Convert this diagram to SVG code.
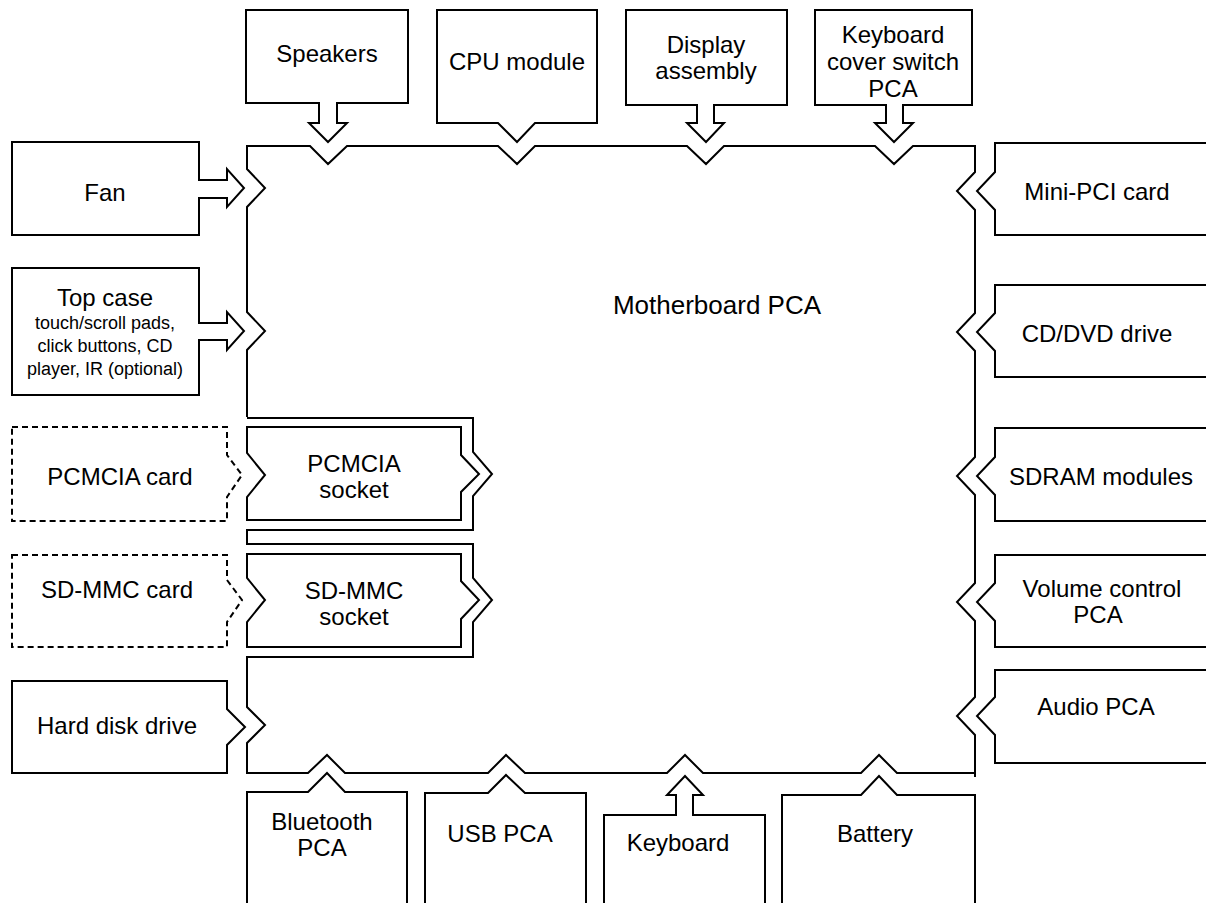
<svg xmlns="http://www.w3.org/2000/svg" width="1206" height="903" viewBox="0 0 1206 903">
<style>
.o{fill:none;stroke:#000;stroke-width:2;stroke-linejoin:miter}
.d{fill:none;stroke:#000;stroke-width:2;stroke-dasharray:6,4}
text{font-family:"Liberation Sans",Arial,sans-serif;font-size:24px;fill:#000;text-anchor:middle}
.s{font-size:18px}
</style>
<rect width="1206" height="903" fill="#fff"/>
<g id="motherboard">
<path class="o" d="M247,417 L247,350 L265,331 L247,312 L247,207 L265,188 L247,169 L247,146 L310,146 L328,164 L347,146 L498,146 L517,164 L535,146 L687,146 L706,164 L724,146 L875,146 L894,164 L913,146 L975,146 L975,172 L957,191 L975,210 L975,313 L957,332 L975,351 L975,457 L957,476 L975,495 L975,583 L957,602 L975,621 L975,697 L957,716 L975,735 L975,777 M975,773 L897,773 L879,755 L861,773 L703,773 L685,755 L667,773 L525,773 L506,755 L488,773 L345,773 L327,755 L308,773 L247,773 L247,743 L265,725 L247,707 L247,657 L473,657 L473,622 L492,600 L473,578 L473,544 L247,544 L247,530 L473,530 L473,496 L492,474 L473,452 L473,418 L247,418"/>
<text x="717" y="314" style="font-size:26px">Motherboard PCA</text>
</g>
<g id="speakers">
<path class="o" d="M246,10 L408,10 L408,103 L337,103 L337,123 L347,123 L328,142 L309,123 L319,123 L319,103 L246,103 Z"/>
<text x="327" y="62">Speakers</text>
</g>
<g id="cpu">
<path class="o" d="M437,10 L597,10 L597,123 L535,123 L517,142 L498,123 L437,123 Z"/>
<text x="517" y="70">CPU module</text>
</g>
<g id="display">
<path class="o" d="M626,10 L787,10 L787,105 L714,105 L714,123 L724,123 L706,142 L687,123 L697,123 L697,105 L626,105 Z"/>
<text x="706" y="53">Display</text>
<text x="706" y="79">assembly</text>
</g>
<g id="kbswitch">
<path class="o" d="M815,10 L972,10 L972,105 L903,105 L903,123 L913,123 L894,142 L875,123 L886,123 L886,105 L815,105 Z"/>
<text x="893" y="43">Keyboard</text>
<text x="893" y="70">cover switch</text>
<text x="893" y="97">PCA</text>
</g>
<g id="fan">
<path class="o" d="M12,142 L199,142 L199,180 L227,180 L227,169 L244,188 L227,207 L227,198 L199,198 L199,235 L12,235 Z"/>
<text x="105" y="201">Fan</text>
</g>
<g id="topcase">
<path class="o" d="M12,268 L199,268 L199,323 L227,323 L227,312 L244,331 L227,350 L227,340 L199,340 L199,395 L12,395 Z"/>
<text x="105" y="306">Top case</text>
<text class="s" x="105" y="329">touch/scroll pads,</text>
<text class="s" x="105" y="352">click buttons, CD</text>
<text class="s" x="105" y="375">player, IR (optional)</text>
</g>
<g id="pcmciacard">
<path class="d" d="M12,427 L227,427 L227,455 L242,475 L227,497 L227,521 L12,521 Z"/>
<text x="120" y="485">PCMCIA card</text>
</g>
<g id="pcmciasocket">
<path class="o" d="M247,427 L461,427 L461,455 L479,474 L461,492 L461,520 L247,520 L247,497 L265,475 L247,453 Z"/>
<text x="354" y="472">PCMCIA</text>
<text x="354" y="498">socket</text>
</g>
<g id="sdcard">
<path class="d" d="M12,555 L227,555 L227,580 L242,600 L227,622 L227,647 L12,647 Z"/>
<text x="117" y="598">SD-MMC card</text>
</g>
<g id="sdsocket">
<path class="o" d="M247,554 L461,554 L461,581 L479,600 L461,619 L461,647 L247,647 L247,622 L265,600 L247,578 Z"/>
<text x="354" y="599">SD-MMC</text>
<text x="354" y="625">socket</text>
</g>
<g id="hdd">
<path class="o" d="M12,681 L227,681 L227,709 L245,727 L227,745 L227,773 L12,773 Z"/>
<text x="117" y="734">Hard disk drive</text>
</g>
<g id="minipci">
<path class="o" d="M1210,143 L995,143 L995,172 L977,191 L995,210 L995,235 L1210,235"/>
<text x="1097" y="200">Mini-PCI card</text>
</g>
<g id="cddvd">
<path class="o" d="M1210,285 L995,285 L995,313 L977,332 L995,351 L995,377 L1210,377"/>
<text x="1097" y="342">CD/DVD drive</text>
</g>
<g id="sdram">
<path class="o" d="M1210,428 L995,428 L995,457 L977,476 L995,495 L995,521 L1210,521"/>
<text x="1101" y="485">SDRAM modules</text>
</g>
<g id="volume">
<path class="o" d="M1210,555 L995,555 L995,583 L977,602 L995,621 L995,647 L1210,647"/>
<text x="1102" y="597">Volume control</text>
<text x="1098" y="623">PCA</text>
</g>
<g id="audio">
<path class="o" d="M1210,670 L995,670 L995,697 L977,716 L995,735 L995,763 L1210,763"/>
<text x="1096" y="715">Audio PCA</text>
</g>
<g id="bluetooth">
<path class="o" d="M247,910 L247,792 L308,792 L327,773 L345,792 L407,792 L407,910"/>
<text x="322" y="830">Bluetooth</text>
<text x="322" y="856">PCA</text>
</g>
<g id="usb">
<path class="o" d="M425,910 L425,793 L488,793 L506,775 L525,793 L586,793 L586,910"/>
<text x="500" y="842">USB PCA</text>
</g>
<g id="keyboard">
<path class="o" d="M604,910 L604,815 L676,815 L676,795 L667,795 L685,776 L703,795 L693,795 L693,815 L765,815 L765,910"/>
<text x="678" y="851">Keyboard</text>
</g>
<g id="battery">
<path class="o" d="M782,910 L782,795 L861,795 L879,776 L897,795 L975,795 L975,910"/>
<text x="875" y="842">Battery</text>
</g>
<g id="connectors"></g>
</svg>
